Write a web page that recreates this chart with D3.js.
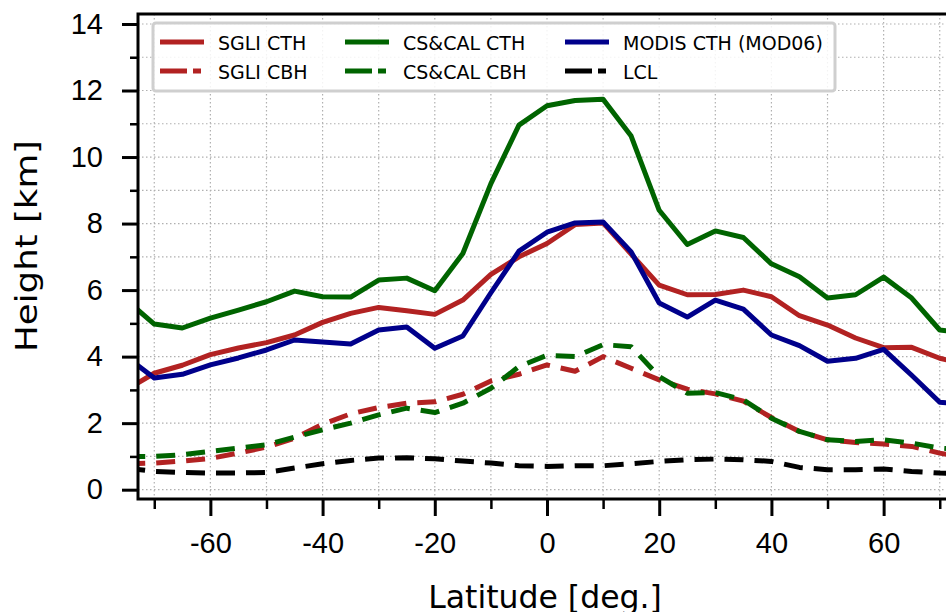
<!DOCTYPE html>
<html>
<head>
<meta charset="utf-8">
<script src="https://cdn.jsdelivr.net/npm/d3@7"></script>
<style>
  body { margin: 0; background: #fff; }
  svg { display: block; font-family: "DejaVu Sans", sans-serif; }
</style>
</head>
<body>
<div id="chart"></div>
<script>
// latitude bins (deg.)
const lats = [-75, -70, -65, -60, -55, -50, -45, -40, -35, -30, -25, -20, -15, -10, -5,
  0, 5, 10, 15, 20, 25, 30, 35, 40, 45, 50, 55, 60, 65, 70, 75];

const sgliCTH = [3.0, 3.5, 3.74, 4.06, 4.26, 4.42, 4.65, 5.03, 5.3, 5.48, 5.38, 5.27, 5.7, 6.47, 7.0,
  7.4, 7.97, 8.02, 7.08, 6.15, 5.86, 5.87, 6.0, 5.8, 5.23, 4.95, 4.56, 4.27, 4.28, 3.95, 3.75];
const sgliCBH = [0.78, 0.8, 0.86, 0.94, 1.1, 1.28, 1.55, 1.97, 2.28, 2.47, 2.6, 2.64, 2.87, 3.27, 3.47,
  3.75, 3.56, 4.0, 3.65, 3.3, 3.02, 2.88, 2.66, 2.17, 1.75, 1.5, 1.42, 1.37, 1.3, 1.1, 0.95];
const calCTH = [5.7, 4.98, 4.86, 5.16, 5.4, 5.65, 5.97, 5.8, 5.79, 6.3, 6.36, 5.98, 7.1, 9.2, 10.96,
  11.54, 11.7, 11.74, 10.63, 8.4, 7.37, 7.78, 7.58, 6.79, 6.4, 5.76, 5.86, 6.39, 5.76, 4.8, 4.7];
const calCBH = [1.0, 1.0, 1.05, 1.15, 1.25, 1.35, 1.58, 1.8, 2.0, 2.25, 2.45, 2.32, 2.6, 3.05, 3.7,
  4.04, 4.0, 4.36, 4.3, 3.4, 2.9, 2.92, 2.7, 2.15, 1.75, 1.5, 1.45, 1.5, 1.4, 1.25, 1.2];
const modisCTH = [4.0, 3.36, 3.47, 3.75, 3.96, 4.2, 4.5, 4.44, 4.38, 4.8, 4.89, 4.25, 4.62, 5.92, 7.17,
  7.74, 8.02, 8.05, 7.15, 5.61, 5.19, 5.7, 5.43, 4.65, 4.33, 3.86, 3.95, 4.22, 3.44, 2.63, 2.55];
const lcl = [0.65, 0.55, 0.52, 0.5, 0.5, 0.52, 0.65, 0.78, 0.88, 0.95, 0.96, 0.93, 0.86, 0.8, 0.72,
  0.7, 0.72, 0.72, 0.78, 0.85, 0.9, 0.92, 0.9, 0.85, 0.67, 0.6, 0.6, 0.62, 0.55, 0.5, 0.48];

const xMajor = [-60, -40, -20, 0, 20, 40, 60];
const xMinor = [-70, -50, -30, -10, 10, 30, 50, 70];
const yMajor = [0, 2, 4, 6, 8, 10, 12, 14];
const yMinor = [1, 3, 5, 7, 9, 11, 13];

const series = [
  { label: "SGLI CTH", values: sgliCTH, color: "#b22222", dashed: false },
  { label: "SGLI CBH", values: sgliCBH, color: "#b22222", dashed: true },
  { label: "CS&CAL CTH", values: calCTH, color: "#006400", dashed: false },
  { label: "CS&CAL CBH", values: calCBH, color: "#006400", dashed: true },
  { label: "MODIS CTH (MOD06)", values: modisCTH, color: "#00008b", dashed: false },
  { label: "LCL", values: lcl, color: "#000000", dashed: true }
];

const width = 946, height = 612;
const plotLeft = 138, plotRight = 956, plotTop = 14, plotBottom = 499;

const svg = d3.select("#chart")
  .append("svg")
  .attr("width", width)
  .attr("height", height);

const xScale = d3.scaleLinear().domain([-72.9, 72.9]).range([plotLeft, plotRight]);
const yScale = d3.scaleLinear().domain([-0.28, 14.3]).range([plotBottom, plotTop]);

svg.append("clipPath").attr("id", "plot-clip")
  .append("rect")
  .attr("x", plotLeft).attr("y", plotTop)
  .attr("width", plotRight - plotLeft).attr("height", plotBottom - plotTop);

// dotted grid on major and minor ticks
const grid = svg.append("g").attr("stroke", "#b0b0b0").attr("stroke-width", 1.2)
  .attr("stroke-dasharray", "1.5,2.5");
grid.selectAll("line.gx")
  .data(xMajor.concat(xMinor))
  .join("line")
  .attr("class", "gx")
  .attr("x1", d => xScale(d)).attr("x2", d => xScale(d))
  .attr("y1", plotTop).attr("y2", plotBottom);
grid.selectAll("line.gy")
  .data(yMajor.concat(yMinor))
  .join("line")
  .attr("class", "gy")
  .attr("x1", plotLeft).attr("x2", plotRight)
  .attr("y1", d => yScale(d)).attr("y2", d => yScale(d));

// lines
const line = d3.line()
  .x((d, i) => xScale(lats[i]))
  .y(d => yScale(d));

const plot = svg.append("g").attr("clip-path", "url(#plot-clip)");
series.forEach(s => {
  plot.append("path")
    .attr("d", line(s.values))
    .attr("fill", "none")
    .attr("stroke", s.color)
    .attr("stroke-width", 5)
    .attr("stroke-linejoin", "round")
    .attr("stroke-dasharray", s.dashed ? "19,11" : null);
});

// axes
const xAxis = svg.append("g")
  .attr("transform", `translate(0,${plotBottom})`)
  .call(d3.axisBottom(xScale).tickValues(xMajor).tickSize(17).tickPadding(16)
    .tickFormat(d => d < 0 ? "-" + Math.abs(d) : d));
xAxis.select(".domain").remove();
xAxis.selectAll(".tick line").attr("stroke-width", 3);
xAxis.selectAll("text").attr("font-size", 29).attr("fill", "#000");

svg.append("g")
  .attr("transform", `translate(0,${plotBottom})`)
  .call(d3.axisBottom(xScale).tickValues(xMinor).tickSize(10).tickFormat(""))
  .call(g => g.select(".domain").remove())
  .selectAll(".tick line").attr("stroke-width", 2.5);

const yAxis = svg.append("g")
  .attr("transform", `translate(${plotLeft},0)`)
  .call(d3.axisLeft(yScale).tickValues(yMajor).tickSize(16).tickPadding(19));
yAxis.select(".domain").remove();
yAxis.selectAll(".tick line").attr("stroke-width", 3);
yAxis.selectAll("text").attr("font-size", 29).attr("fill", "#000");

svg.append("g")
  .attr("transform", `translate(${plotLeft},0)`)
  .call(d3.axisLeft(yScale).tickValues(yMinor).tickSize(8).tickFormat(""))
  .call(g => g.select(".domain").remove())
  .selectAll(".tick line").attr("stroke-width", 2.5);

// spines
svg.append("rect")
  .attr("x", plotLeft).attr("y", plotTop)
  .attr("width", plotRight - plotLeft).attr("height", plotBottom - plotTop)
  .attr("fill", "none").attr("stroke", "#000").attr("stroke-width", 3);

// axis titles
svg.append("text")
  .attr("x", 545).attr("y", 608)
  .attr("text-anchor", "middle")
  .attr("font-size", 31.5)
  .text("Latitude [deg.]");

svg.append("text")
  .attr("transform", "translate(37,246) rotate(-90)")
  .attr("text-anchor", "middle")
  .attr("font-size", 31)
  .attr("textLength", 212)
  .attr("lengthAdjust", "spacingAndGlyphs")
  .text("Height [km]");

// legend
const legend = svg.append("g");
legend.append("rect")
  .attr("x", 153).attr("y", 23).attr("width", 682).attr("height", 68)
  .attr("rx", 3)
  .attr("fill", "#fff").attr("fill-opacity", 0.85)
  .attr("stroke", "#cfcfcf").attr("stroke-width", 3);

const colX = [160, 345, 565];
const rowY = [42, 71];
series.forEach((s, i) => {
  const cx = colX[Math.floor(i / 2)];
  const cy = rowY[i % 2];
  legend.append("line")
    .attr("x1", cx).attr("x2", cx + 44)
    .attr("y1", cy).attr("y2", cy)
    .attr("stroke", s.color).attr("stroke-width", 5)
    .attr("stroke-dasharray", s.dashed ? "27,6,8" : null);
  legend.append("text")
    .attr("x", cx + 58).attr("y", cy + 7.5)
    .attr("font-size", 19)
    .text(s.label);
});
</script>
</body>
</html>
